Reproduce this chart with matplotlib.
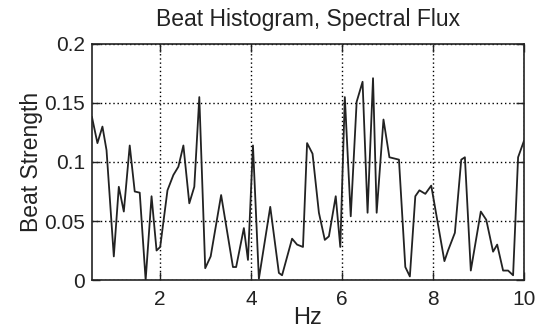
import matplotlib.pyplot as plt
from matplotlib.ticker import FixedLocator

plt.rcParams['font.family'] = ['Liberation Sans', 'DejaVu Sans']

# beat histogram (spectral flux), frequency in Hz vs beat strength
hz = [0.50, 0.62, 0.73, 0.82, 0.98, 1.09, 1.20, 1.33, 1.44, 1.55, 1.68, 1.81,
      1.92, 2.00, 2.16, 2.29, 2.40, 2.51, 2.64, 2.75, 2.86, 2.99, 3.11, 3.34,
      3.60, 3.67, 3.84, 3.93, 4.04, 4.17, 4.42, 4.61, 4.68, 4.90, 5.01, 5.14,
      5.23, 5.35, 5.49, 5.62, 5.71, 5.86, 5.96, 6.06, 6.19, 6.32, 6.45, 6.56,
      6.68, 6.76, 6.91, 7.04, 7.25, 7.39, 7.49, 7.61, 7.70, 7.83, 7.96, 8.25,
      8.33, 8.48, 8.62, 8.70, 8.83, 9.05, 9.17, 9.32, 9.41, 9.54, 9.65, 9.76,
      9.87, 10.00]
strength = [0.138, 0.116, 0.130, 0.110, 0.020, 0.079, 0.058, 0.114, 0.075,
            0.074, 0.000, 0.071, 0.025, 0.028, 0.076, 0.089, 0.096, 0.114,
            0.065, 0.079, 0.155, 0.010, 0.020, 0.072, 0.011, 0.011, 0.044,
            0.017, 0.114, 0.001, 0.062, 0.006, 0.004, 0.035, 0.030, 0.028,
            0.116, 0.107, 0.057, 0.034, 0.037, 0.071, 0.028, 0.155, 0.054,
            0.151, 0.168, 0.057, 0.171, 0.057, 0.136, 0.104, 0.102, 0.011,
            0.003, 0.071, 0.076, 0.073, 0.080, 0.016, 0.025, 0.040, 0.102,
            0.104, 0.008, 0.058, 0.051, 0.024, 0.030, 0.008, 0.008, 0.004,
            0.104, 0.118]

xticks = [2, 4, 6, 8, 10]
yticks = [0, 0.05, 0.1, 0.15, 0.2]
ytick_labels = ['0', '0.05', '0.1', '0.15', '0.2']

ink = '#222222'

fig = plt.figure(figsize=(5.42, 3.30), dpi=100)
ax = fig.add_axes([0.1697, 0.1515, 0.7971, 0.7152])

ax.plot(hz, strength, color=ink, lw=1.3)

ax.set_xlim(0.5, 10)
ax.set_ylim(0, 0.2)
ax.xaxis.set_major_locator(FixedLocator(xticks))
ax.set_yticks(yticks)
ax.set_yticklabels(ytick_labels)

ax.grid(True, color='black', linestyle=(0, (1, 2)), linewidth=1.0)
ax.tick_params(direction='in', length=6, width=1.0, top=True, right=True,
               labelsize=15, colors=ink, pad=5)
ax.tick_params(axis='x', pad=7)
for s in ax.spines.values():
    s.set_linewidth(1.2)
    s.set_color(ink)

ax.set_title('Beat Histogram, Spectral Flux', fontsize=16.5, pad=13,
             color=ink)
ax.set_xlabel('Hz', fontsize=17, labelpad=-1, color=ink)
ax.set_ylabel('Beat Strength', fontsize=16.5, labelpad=1, color=ink)

fig.savefig('out.png', dpi=100)
